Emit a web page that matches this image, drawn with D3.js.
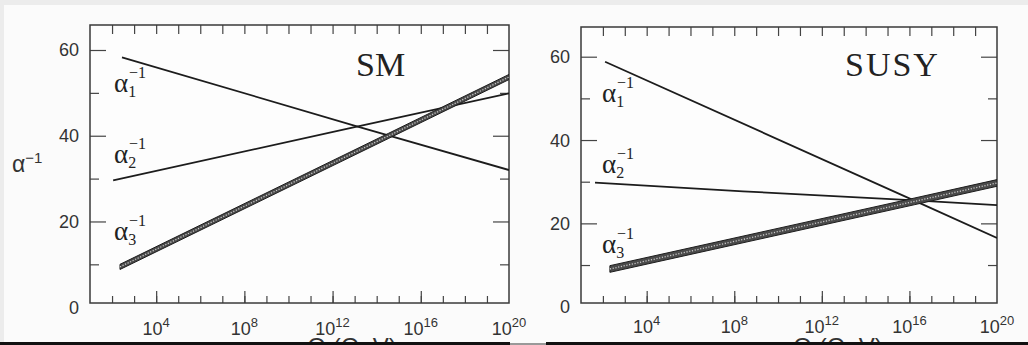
<!DOCTYPE html>
<html>
<head>
<meta charset="utf-8">
<script src="https://cdn.jsdelivr.net/npm/d3@7"></script>
<style>
  html, body { margin: 0; padding: 0; background: #fbfbfb; }
  svg { display: block; }
  .num { font-family: 'Liberation Sans', Arial, sans-serif; fill: #333; }
  .serif { font-family: 'Liberation Serif', 'Times New Roman', serif; fill: #222; }
  .tick line { stroke: #444; stroke-width: 1.2; }
</style>
</head>
<body>
<div id="app"></div>
<script>
// values: x = log10(Q / GeV), y = inverse coupling
const decades = d3.range(2, 20);
const majorDecades = [4, 8, 12, 16];
const labelDecades = [4, 8, 12, 16, 20];
const yTicksMajor = [20, 40, 60];
const yTicksMinor = [10, 30, 50];
const yLabels = [0, 20, 40, 60];

const smLogQ1 = [2.45, 13.1, 20];
const smAlpha1 = [58.3, 42.2, 32.0];
const smLogQ2 = [2.05, 13.1, 20];
const smAlpha2 = [29.6, 42.1, 49.9];
const smLogQ3 = [2.36, 14.55, 20];
const smAlpha3 = [9.4, 40.0, 53.7];
const smAlpha3Err = 0.6;

const susyLogQ1 = [2.1, 16.25, 20];
const susyAlpha1 = [58.8, 25.4, 16.5];
const susyLogQ2 = [1.64, 8.4, 16.25, 20];
const susyAlpha2 = [29.8, 27.7, 25.5, 24.4];
const susyLogQ3 = [2.32, 16.25, 20];
const susyAlpha3 = [9.05, 25.3, 29.7];
const susyAlpha3Err = 0.8;

const width = 1028;
const height = 345;

const svg = d3
  .select('#app')
  .append('svg')
  .attr('width', width)
  .attr('height', height);

// page background with the scan's grey edges
svg.append('rect').attr('width', width).attr('height', height).attr('fill', '#fbfbfb');
svg.append('rect').attr('width', width).attr('height', 5).attr('fill', '#ececec');
svg.append('rect').attr('width', 4).attr('height', height).attr('fill', '#ececec');

const panels = [
  {
    id: 'sm',
    title: 'SM',
    titleX: 356,
    frame: { x0: 90, x1: 509, y0: 25, y1: 303 },
    yRange: [307.2, 50],
    labelY: 335,
    alphaX: 114,
    alphaY: [92, 163, 240],
    showYTitle: true,
    lines: [
      { q: smLogQ1, v: smAlpha1 },
      { q: smLogQ2, v: smAlpha2 },
    ],
    band: { q: smLogQ3, v: smAlpha3, err: smAlpha3Err },
    axisTitleX: 352,
  },
  {
    id: 'susy',
    title: 'SUSY',
    titleX: 845,
    frame: { x0: 581, x1: 997, y0: 27, y1: 303 },
    yRange: [306.7, 56.7],
    labelY: 333,
    alphaX: 602,
    alphaY: [102, 173, 253],
    showYTitle: false,
    lines: [
      { q: susyLogQ1, v: susyAlpha1 },
      { q: susyLogQ2, v: susyAlpha2 },
    ],
    band: { q: susyLogQ3, v: susyAlpha3, err: susyAlpha3Err },
    axisTitleX: 838,
  },
];

const defs = svg.append('defs');

panels.forEach((p) => {
  const f = p.frame;
  const g = svg.append('g').attr('class', `panel-${p.id}`);

  // scales
  const xScale = d3.scaleLog().domain([10, 1e20]).range([f.x0, f.x1]);
  const yScale = d3.scaleLinear().domain([0, 60]).range(p.yRange);

  defs
    .append('clipPath')
    .attr('id', `clip-${p.id}`)
    .append('rect')
    .attr('x', f.x0)
    .attr('y', f.y0)
    .attr('width', f.x1 - f.x0)
    .attr('height', f.y1 - f.y0);

  g.append('rect')
    .attr('x', f.x0)
    .attr('y', f.y0)
    .attr('width', f.x1 - f.x0)
    .attr('height', f.y1 - f.y0)
    .attr('fill', '#fdfdfd');

  // ticks, all pointing inward
  const addAxis = (axis, transform) => {
    const a = g.append('g').attr('transform', transform).call(axis);
    a.select('.domain').remove();
    a.selectAll('text').remove();
  };
  const pow = (d) => 10 ** d;

  addAxis(d3.axisBottom(xScale).tickValues(decades.map(pow)).tickSize(-7), `translate(0,${f.y1})`);
  addAxis(d3.axisBottom(xScale).tickValues(majorDecades.map(pow)).tickSize(-12), `translate(0,${f.y1})`);
  addAxis(d3.axisTop(xScale).tickValues(decades.map(pow)).tickSize(-9), `translate(0,${f.y0})`);
  addAxis(d3.axisLeft(yScale).tickValues(yTicksMinor).tickSize(-9), `translate(${f.x0},0)`);
  addAxis(d3.axisLeft(yScale).tickValues(yTicksMajor).tickSize(-16), `translate(${f.x0},0)`);
  addAxis(d3.axisRight(yScale).tickValues(yTicksMinor).tickSize(-9), `translate(${f.x1},0)`);
  addAxis(d3.axisRight(yScale).tickValues(yTicksMajor).tickSize(-16), `translate(${f.x1},0)`);

  // frame
  g.append('rect')
    .attr('x', f.x0)
    .attr('y', f.y0)
    .attr('width', f.x1 - f.x0)
    .attr('height', f.y1 - f.y0)
    .attr('fill', 'none')
    .attr('stroke', '#3a3a3a')
    .attr('stroke-width', 1.5);

  // tick labels
  g.selectAll('.y-label')
    .data(yLabels)
    .enter()
    .append('text')
    .attr('class', 'num')
    .attr('x', f.x0 - 11)
    .attr('y', (d) => yScale(d))
    .attr('dy', '0.36em')
    .attr('text-anchor', 'end')
    .attr('font-size', 18)
    .text((d) => d);

  const xLabels = g
    .selectAll('.x-label')
    .data(labelDecades)
    .enter()
    .append('text')
    .attr('class', 'num')
    .attr('x', (d) => xScale(pow(d)))
    .attr('y', p.labelY)
    .attr('text-anchor', 'middle')
    .attr('font-size', 18);
  xLabels.append('tspan').text('10');
  xLabels
    .append('tspan')
    .attr('dy', -8)
    .attr('font-size', 13)
    .text((d) => d);

  // coupling lines
  const line = d3
    .line()
    .x((d) => xScale(pow(d[0])))
    .y((d) => yScale(d[1]));

  const plot = g.append('g').attr('clip-path', `url(#clip-${p.id})`);

  p.lines.forEach((l) => {
    plot
      .append('path')
      .attr('d', line(d3.zip(l.q, l.v)))
      .attr('fill', 'none')
      .attr('stroke', '#1c1c1c')
      .attr('stroke-width', 1.8);
  });

  // alpha_3 drawn as a hatched band
  const b = p.band;
  const bandArea = d3
    .area()
    .x((d) => xScale(pow(d[0])))
    .y0((d) => yScale(d[1] - b.err))
    .y1((d) => yScale(d[1] + b.err));
  const bandData = d3.zip(b.q, b.v);
  plot
    .append('path')
    .attr('d', bandArea(bandData))
    .attr('fill', '#4a4a4a')
    .attr('stroke', '#1c1c1c')
    .attr('stroke-width', 1);
  plot
    .append('path')
    .attr('d', line(bandData))
    .attr('fill', 'none')
    .attr('stroke', '#c8c8c8')
    .attr('stroke-width', 1.3)
    .attr('stroke-dasharray', '1.2 1.6');

  // alpha labels
  p.alphaY.forEach((y, i) => {
    const t = g
      .append('text')
      .attr('class', 'serif')
      .attr('x', p.alphaX)
      .attr('y', y)
      .attr('font-size', 27);
    t.append('tspan').text('α');
    t.append('tspan').attr('font-size', 16).attr('dy', 5).text(i + 1);
    g.append('text')
      .attr('class', 'serif')
      .attr('x', p.alphaX + 15)
      .attr('y', y - 14)
      .attr('font-size', 16)
      .text('−1');
  });

  // panel title
  g.append('text')
    .attr('class', 'serif')
    .attr('x', p.titleX)
    .attr('y', 76)
    .attr('font-size', 34)
    .attr('letter-spacing', p.id === 'susy' ? 2 : 0)
    .text(p.title);

  if (p.showYTitle) {
    const yt = g
      .append('text')
      .attr('class', 'num')
      .attr('x', 12)
      .attr('y', 172)
      .attr('font-size', 23);
    yt.append('tspan').text('α');
    yt.append('tspan').attr('dy', -9).attr('font-size', 15).text('−1');
  }

  // axis title, mostly cut off by the image edge
  g.append('text')
    .attr('class', 'num')
    .attr('x', p.axisTitleX)
    .attr('y', 355)
    .attr('text-anchor', 'middle')
    .attr('font-size', 24)
    .text('Q (GeV)');
});

// black edge at the bottom of the scan
svg.append('rect').attr('x', 0).attr('y', 342).attr('width', 510).attr('height', 3).attr('fill', '#111');
svg.append('rect').attr('x', 510).attr('y', 343).attr('width', 36).attr('height', 2).attr('fill', '#999');
svg.append('rect').attr('x', 546).attr('y', 342).attr('width', width - 546).attr('height', 3).attr('fill', '#111');
</script>
</body>
</html>
